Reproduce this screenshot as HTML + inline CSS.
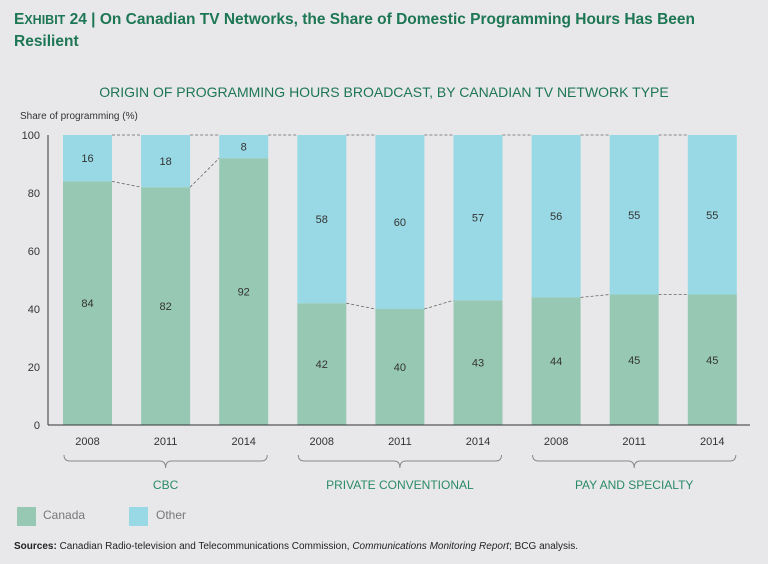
<!DOCTYPE html>
<html><head><meta charset="utf-8"><style>
body{margin:0;background:#e8e8ea;font-family:"Liberation Sans",sans-serif;}
#wrap{position:relative;width:768px;height:564px;overflow:hidden;background:#e8e8ea}
.t{position:absolute;white-space:nowrap}
</style></head><body>
<div id="wrap">
<div class="t" style="left:14px;top:9px;font-size:15.5px;font-weight:bold;color:#1d7654;line-height:21px">E<span style="font-size:12.5px">XHIBIT</span> 24 | On Canadian TV Networks, the Share of Domestic Programming Hours Has Been<br>Resilient</div>
<div class="t" style="left:0;width:768px;text-align:center;top:84px;font-size:14px;color:#1d7654">ORIGIN OF PROGRAMMING HOURS BROADCAST, BY CANADIAN TV NETWORK TYPE</div>
<div class="t" style="left:20px;top:111px;font-size:10px;color:#333">Share of programming (%)</div>
<svg id="chart" width="768" height="564" style="position:absolute;left:0;top:0"></svg>
<div style="position:absolute;left:17px;top:507px;width:19px;height:19px;background:#97c8b4"></div>
<div class="t" style="left:43px;top:508px;font-size:12px;color:#777">Canada</div>
<div style="position:absolute;left:129px;top:507px;width:19px;height:19px;background:#99d9e5"></div>
<div class="t" style="left:156px;top:508px;font-size:12px;color:#777">Other</div>
<div class="t" style="left:14px;top:541px;font-size:10px;color:#222"><b>Sources:</b> Canadian Radio-television and Telecommunications Commission, <i>Communications Monitoring Report</i>; BCG analysis.</div>
</div>
<script>
const years=["2008","2011","2014","2008","2011","2014","2008","2011","2014"];
const canada=[84,82,92,42,40,43,44,45,45];
const other=[16,18,8,58,60,57,56,55,55];
const groups=["CBC","PRIVATE CONVENTIONAL","PAY AND SPECIALTY"];
const yTicks=[0,20,40,60,80,100];
const NS="http://www.w3.org/2000/svg";
const svg=document.getElementById('chart');
const y0=425,y100=135,bw=49;
function y(v){return y0-(y0-y100)*v/100;}
function x(i){return 63+i*78.1;}
function mk(t,a,p){const e=document.createElementNS(NS,t);for(const k in a)e.setAttribute(k,a[k]);(p||svg).appendChild(e);return e;}
yTicks.forEach(v=>{const e=mk('text',{x:40,y:y(v)+4,'text-anchor':'end','font-size':11,fill:'#333','font-family':'Liberation Sans'});e.textContent=v;

});
canada.forEach((c,i)=>{
 const g=mk('rect',{x:x(i),y:y(c),width:bw,height:y0-y(c),fill:'#97c8b4'});
 
 
 const o=other[i];
 const b=mk('rect',{x:x(i),y:y(c+o),width:bw,height:y(c)-y(c+o),fill:'#99d9e5'});
 
 
 const t1=mk('text',{x:x(i)+bw/2,y:(y(c)+y0)/2+4,'text-anchor':'middle','font-size':11,fill:'#333','font-family':'Liberation Sans'});t1.textContent=c;
 
 
 const t2=mk('text',{x:x(i)+bw/2,y:(y(c)+y(c+o))/2+4,'text-anchor':'middle','font-size':11,fill:'#333','font-family':'Liberation Sans'});t2.textContent=o;
 
 
 const yl=mk('text',{x:x(i)+bw/2,y:445,'text-anchor':'middle','font-size':11,fill:'#333','font-family':'Liberation Sans'});yl.textContent=years[i];
 
 
 if(i<canada.length-1){
  if(i%3!==2){
   const d1=mk('line',{x1:x(i)+bw,y1:y(c),x2:x(i+1),y2:y(canada[i+1]),stroke:'#666','stroke-dasharray':'3,2','stroke-width':0.8});
   
   
  }
  const d2=mk('line',{x1:x(i)+bw,y1:y(100),x2:x(i+1),y2:y(100),stroke:'#666','stroke-dasharray':'3,2','stroke-width':0.8});
  
  
 }
});
mk('line',{x1:48,y1:y100,x2:48,y2:y0,stroke:'#333','stroke-width':1});
mk('line',{x1:48,y1:y0,x2:750,y2:y0,stroke:'#333','stroke-width':1});
groups.forEach((gname,k)=>{
 const a=x(k*3)+1,b=x(k*3+2)+bw-1,m=(a+b)/2;
 const p=mk('path',{d:`M${a},455 q0,6 6,6 L${m-6},461 q6,0 6,7 q0,-7 6,-7 L${b-6},461 q6,0 6,-6`,fill:'none',stroke:'#888','stroke-width':1});
 
 
 const t=mk('text',{x:m,y:489,'text-anchor':'middle','font-size':12,fill:'#2a8a66','font-family':'Liberation Sans'});t.textContent=gname;
 
 
});
</script>
</body></html>
